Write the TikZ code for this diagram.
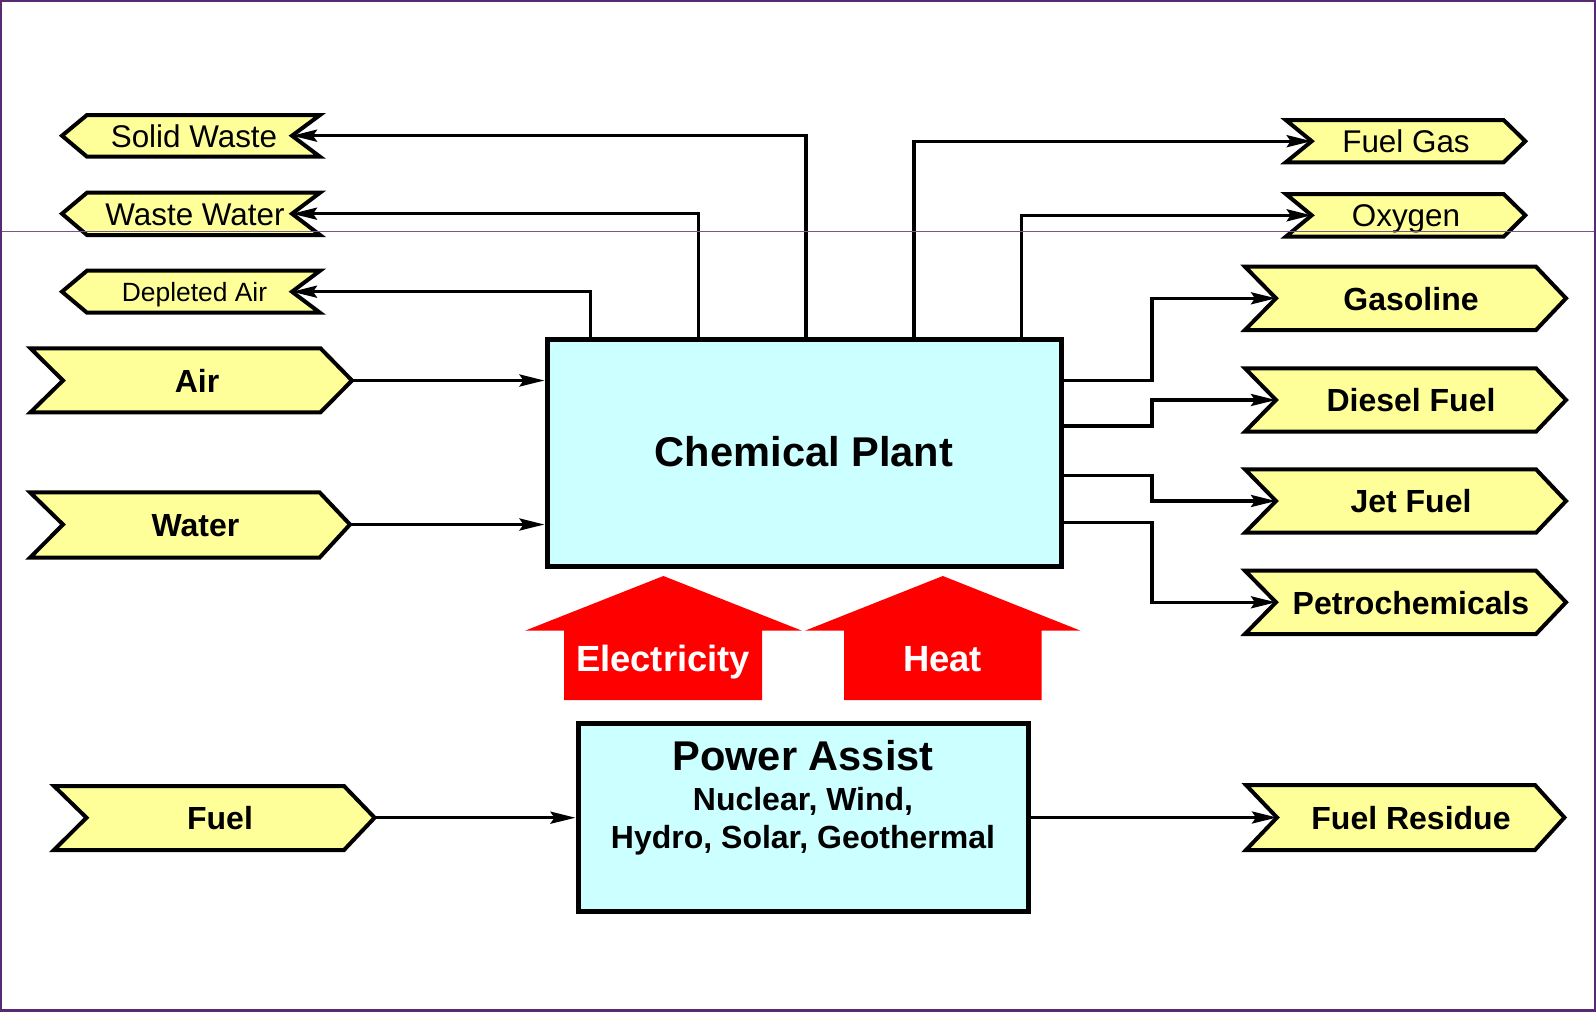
\documentclass[tikz,border=0pt]{standalone}
\usepackage{fontspec}
\setmainfont{Liberation Sans}
\usetikzlibrary{arrows.meta,calc}
\definecolor{chevyellow}{HTML}{FFFF99}
\definecolor{boxcyan}{HTML}{CCFFFF}
\definecolor{frameviolet}{HTML}{582A72}
% right-pointing chevron: name, xl, xn, xr, xt, top, mid, bot
\newcommand{\chevR}[8]{\draw[chev] (#2,#6) -- (#4,#6) -- (#5,#7) coordinate (#1-out) -- (#4,#8) -- (#2,#8) -- (#3,#7) coordinate (#1-in) -- cycle;}
% left-pointing chevron: name, xt, xl, xn, xr, top, mid, bot
\newcommand{\chevL}[8]{\draw[chev] (#3,#6) -- (#5,#6) -- (#4,#7) coordinate (#1-in) -- (#5,#8) -- (#3,#8) -- (#2,#7) coordinate (#1-out) -- cycle;}
\begin{document}
\begin{tikzpicture}[x=0.5pt,y=-0.5pt,
  chev/.style={draw=black, fill=chevyellow, line width=2pt, line join=miter},
  conn/.style={line width=1.7pt, line join=miter, -{Stealth[length=12.5pt,width=6pt,inset=2pt]}},
  box/.style={draw=black, fill=boxcyan, line width=2.5pt, inner sep=0pt},
  lab/.style={anchor=base, inner sep=0pt, font=\fontsize{16}{19}\selectfont\bfseries},
  slab/.style={anchor=base, inner sep=0pt, font=\fontsize{15.7}{19}\selectfont},
  title/.style={anchor=base, inner sep=0pt, font=\fontsize{20.8}{25}\selectfont\bfseries},
  redlab/.style={anchor=base, inner sep=0pt, text=white, font=\fontsize{18.2}{22}\selectfont\bfseries},
  bigarrow/.style={fill=red, draw=none}
]
\useasboundingbox (0,0) rectangle (1596,1012);
\fill[white] (0,0) rectangle (1596,1012);

% ---------- boxes ----------
\node[box, minimum width=257pt, minimum height=113.5pt] (chem) at (804,452.5) {};
\node[title] (chemt) at (804,466.7) {Chemical Plant};
\node[box, minimum width=225pt, minimum height=94pt] (pa) at (803,817.5) {};
\node[title] (pat) at (803,770) {Power Assist};
\node[lab] (pa2) at (803,810) {Nuclear, Wind,};
\node[lab] (pa3) at (803,848.3) {Hydro, Solar, Geothermal};

% ---------- left outputs ----------
\chevL{sw}{62}{87}{292}{320}{115}{135.7}{156.7}
\node[slab] (swt) at (194,147) {Solid Waste};
\chevL{ww}{62}{87}{292}{320}{192.7}{213.7}{235}
\node[slab] (wwt) at (195,225) {Waste Water};
\chevL{da}{62}{87}{292}{320}{270.7}{291.7}{312.7}
\node[anchor=base, inner sep=0pt, font=\fontsize{13.2}{16}\selectfont] (dat) at (194.5,301) {Depleted Air};

% ---------- left inputs ----------
\chevR{air}{30.5}{63}{320.5}{352}{348.3}{380.5}{412.3}
\node[lab] (airt) at (197,392) {Air};
\chevR{wat}{30}{63}{319.5}{350}{492.3}{524.5}{557.7}
\node[lab] (watt) at (195.5,536) {Water};
\chevR{fuel}{54}{86.5}{344}{374.6}{786}{817.7}{850}
\node[lab] (fuelt) at (220,829) {Fuel};

% ---------- right outputs ----------
\chevR{fg}{1285.8}{1311.7}{1503.6}{1525.3}{120}{141.2}{162.3}
\node[slab] (fgt) at (1406,152.4) {Fuel Gas};
\chevR{ox}{1285.8}{1311.7}{1503.6}{1525.3}{194}{215.3}{236.7}
\node[slab] (oxt) at (1406,226.5) {Oxygen};
\chevR{gas}{1245}{1276}{1536}{1566}{266.7}{298.3}{330}
\node[lab] (gast) at (1411,310) {Gasoline};
\chevR{dsl}{1245}{1276}{1536}{1566}{368.3}{400}{431.7}
\node[lab] (dslt) at (1411,411.5) {Diesel Fuel};
\chevR{jet}{1245}{1276}{1536}{1566}{469.3}{501}{532.7}
\node[lab] (jett) at (1411,512.5) {Jet Fuel};
\chevR{pet}{1245}{1276}{1536}{1566}{570.7}{602.3}{634}
\node[lab] (pett) at (1411,614) {Petrochemicals};
\chevR{fr}{1246}{1277}{1535}{1564.4}{785}{817.5}{850}
\node[lab] (frt) at (1411,829) {Fuel Residue};

% ---------- red arrows ----------
\fill[bigarrow] (663.4,576) -- (802,630.7) -- (762,630.7) -- (762,700) -- (564,700) -- (564,630.7) -- (525,630.7) -- cycle;
\node[redlab] (elec) at (663,671.7) {Electricity};
\fill[bigarrow] (942.8,576) -- (1080.6,630.7) -- (1041.5,630.7) -- (1041.5,700) -- (844,700) -- (844,630.7) -- (805,630.7) -- cycle;
\node[redlab] (heat) at (942.5,671.7) {Heat};

% ---------- connectors ----------
\coordinate (xsw) at (806,0);
\coordinate (xww) at (698.3,0);
\coordinate (xda) at (590.4,0);
\coordinate (xfg) at (914,0);
\coordinate (xox) at (1021.7,0);
\coordinate (bus) at (1152,0);

\draw[conn] (chem.north -| xsw) |- (sw-in);
\draw[conn] (chem.north -| xww) |- (ww-in);
\draw[conn] (chem.north -| xda) |- (da-in);
\draw[conn] (chem.north -| xfg) |- (fg-in);
\draw[conn] (chem.north -| xox) |- (ox-in);

\draw[conn] (air-out) -- (air-out -| chem.west);
\draw[conn] (wat-out) -- (wat-out -| chem.west);
\draw[conn] (fuel-out) -- (fuel-out -| pa.west);
\draw[conn] (pa.east |- fr-in) -- (fr-in);

\coordinate (g0) at ($(chem.north east)+(0,44.2)$);
\coordinate (d0) at ($(chem.north east)+(0,89.5)$);
\coordinate (j0) at ($(chem.north east)+(0,139.2)$);
\coordinate (p0) at ($(chem.north east)+(0,186.2)$);
\draw[conn] (g0) -- (g0 -| bus) |- (gas-in);
\draw[conn] (d0) -- (d0 -| bus) |- (dsl-in);
\draw[conn] (j0) -- (j0 -| bus) |- (jet-in);
\draw[conn] (p0) -- (p0 -| bus) |- (pet-in);

% ---------- frame ----------
\draw[frameviolet!80, line width=0.5pt] (0,231) -- (1596,231);
\draw[frameviolet, line width=1pt] (1,1) rectangle (1595,1010.5);
\fill[frameviolet] (0,1009) rectangle (1596,1012);
\end{tikzpicture}
\end{document}
